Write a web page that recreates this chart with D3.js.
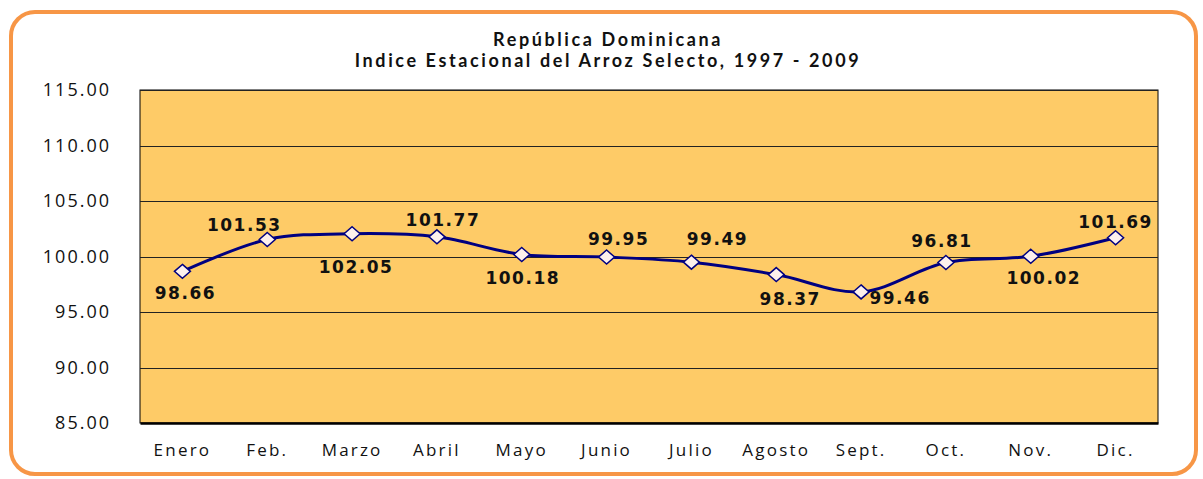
<!DOCTYPE html>
<html>
<head>
<meta charset="utf-8">
<script src="https://cdn.jsdelivr.net/npm/d3@7"></script>
<style>
  body { margin: 0; background: #fff; }
  svg text { font-family: "Open Sans", sans-serif; }
</style>
</head>
<body>
<script>
// data
var months = ["Enero", "Feb.", "Marzo", "Abril", "Mayo", "Junio", "Julio", "Agosto", "Sept.", "Oct.", "Nov.", "Dic."];
var indexValues = [98.66, 101.53, 102.05, 101.77, 100.18, 99.95, 99.49, 98.37, 96.81, 99.46, 100.02, 101.69];
// labels as printed in the source (Sept./Oct. labels appear swapped there)
var labelText = ["98.66", "101.53", "102.05", "101.77", "100.18", "99.95", "99.49", "98.37", "99.46", "96.81", "100.02", "101.69"];
var yTicks = [85, 90, 95, 100, 105, 110, 115];
var titleLines = ["República Dominicana", "Indice Estacional del Arroz Selecto, 1997 - 2009"];

// label offsets from each marker [dx, dy]
var labelOffset = [[3, 22], [-23, -14], [4, 33], [6, -17], [1, 24], [12, -18], [26, -23], [14, 24], [39, 6], [-4, -21], [13, 22], [0, -16]];

var W = 1203, H = 479;
var plot = { left: 140, right: 1158, top: 90, bottom: 423 };

var svg = d3.select("body").append("svg")
  .attr("width", W)
  .attr("height", H);

svg.append("rect")
  .attr("x", 11).attr("y", 12)
  .attr("width", 1185).attr("height", 462)
  .attr("rx", 24).attr("ry", 24)
  .attr("fill", "#fff")
  .attr("stroke", "#F79646")
  .attr("stroke-width", 4);

var x = d3.scaleBand().domain(months).range([plot.left, plot.right]);
var y = d3.scaleLinear().domain([85, 115]).range([plot.bottom, plot.top]);

svg.append("rect")
  .attr("x", plot.left).attr("y", plot.top)
  .attr("width", plot.right - plot.left).attr("height", plot.bottom - plot.top)
  .attr("fill", "#FECB67")
  .attr("stroke", "#000")
  .attr("stroke-width", 1);

// gridlines
svg.append("g").selectAll("line")
  .data(yTicks.slice(1))
  .join("line")
  .attr("x1", plot.left).attr("x2", plot.right)
  .attr("y1", function(d) { return Math.round(y(d)) + 0.5; })
  .attr("y2", function(d) { return Math.round(y(d)) + 0.5; })
  .attr("stroke", "#222")
  .attr("stroke-width", 1);

// y axis labels
var yAxis = svg.append("g")
  .attr("transform", "translate(" + plot.left + ",0)")
  .call(d3.axisLeft(y).tickValues(yTicks).tickFormat(d3.format(".2f")).tickSize(0).tickPadding(29));
yAxis.select(".domain").remove();
yAxis.selectAll("text")
  .attr("font-size", 18)
  .attr("letter-spacing", 2)
  .attr("fill", "#111")
  .style("font-family", "'Open Sans', sans-serif");

// x axis
var xAxis = svg.append("g")
  .attr("transform", "translate(0," + plot.bottom + ")")
  .call(d3.axisBottom(x).tickSize(0).tickPadding(21));
xAxis.select(".domain")
  .attr("stroke", "#000")
  .attr("stroke-width", 2.5);
xAxis.selectAll("text")
  .attr("font-size", 17)
  .attr("letter-spacing", 2.2)
  .attr("fill", "#111")
  .style("font-family", "'Open Sans', sans-serif");

// title, two separate lines
svg.append("g").selectAll("text")
  .data(titleLines)
  .join("text")
  .attr("x", 608)
  .attr("y", function(d, i) { return 46 + i * 21; })
  .attr("text-anchor", "middle")
  .attr("font-weight", "bold")
  .attr("font-size", 18)
  .attr("letter-spacing", 2.6)
  .attr("fill", "#111")
  .style("font-family", "Lato, sans-serif")
  .text(function(d) { return d; });

var pts = months.map(function(m, i) {
  return [x(m) + x.bandwidth() / 2, y(indexValues[i])];
});

svg.append("path")
  .attr("d", d3.line().curve(d3.curveCatmullRom.alpha(0.5))(pts))
  .attr("fill", "none")
  .attr("stroke", "#000080")
  .attr("stroke-width", 3);

svg.append("g").selectAll("path")
  .data(pts)
  .join("path")
  .attr("transform", function(d) { return "translate(" + d[0] + "," + d[1] + ")"; })
  .attr("d", "M0,-7L8,0L0,7L-8,0Z")
  .attr("fill", "#FDF0EC")
  .attr("stroke", "#000080")
  .attr("stroke-width", 1.5);

svg.append("g").selectAll("text")
  .data(pts)
  .join("text")
  .attr("x", function(d, i) { return d[0] + labelOffset[i][0]; })
  .attr("y", function(d, i) { return d[1] + labelOffset[i][1]; })
  .attr("dy", "0.35em")
  .attr("text-anchor", "middle")
  .attr("font-size", 17)
  .attr("font-weight", "bold")
  .attr("letter-spacing", 1.5)
  .attr("fill", "#111")
  .style("font-family", "'DejaVu Sans', Verdana, sans-serif")
  .text(function(d, i) { return labelText[i]; });
</script>
</body>
</html>
